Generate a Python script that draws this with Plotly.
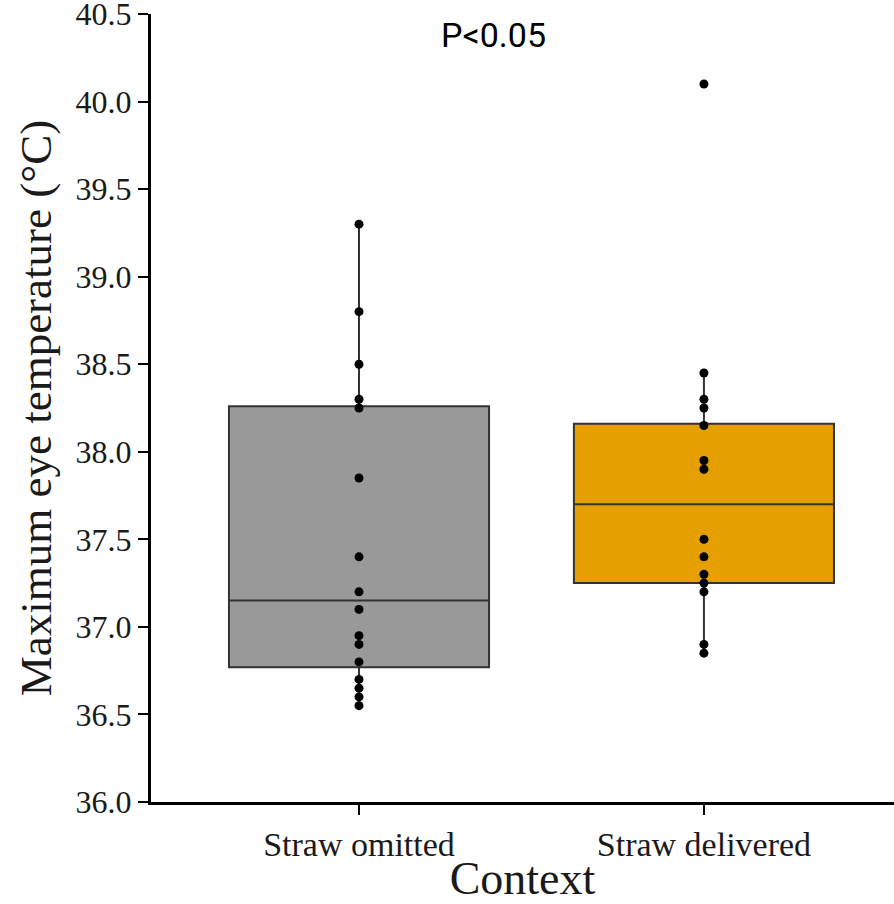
import plotly.graph_objects as go

# ---- data ----
categories = ["Straw omitted", "Straw delivered"]
omitted_values = [39.3, 38.8, 38.5, 38.3, 38.25, 37.85, 37.4, 37.2, 37.1,
                  36.95, 36.9, 36.8, 36.7, 36.65, 36.6, 36.55]
delivered_values = [40.1, 38.45, 38.3, 38.25, 38.15, 37.95, 37.9, 37.5, 37.4,
                    37.3, 37.25, 37.2, 36.9, 36.85]
box_q1 = [36.77, 37.25]
box_median = [37.15, 37.70]
box_q3 = [38.26, 38.16]
box_lower = [36.55, 36.85]
box_upper = [39.30, 38.45]
box_colors = ["#999999", "#E69F00"]
y_ticks = [36.0, 36.5, 37.0, 37.5, 38.0, 38.5, 39.0, 39.5, 40.0, 40.5]
annotation_text = "P<0.05"

fig = go.Figure()
for i, cat in enumerate(categories):
    fig.add_trace(go.Box(
        x=[cat], q1=[box_q1[i]], median=[box_median[i]], q3=[box_q3[i]],
        lowerfence=[box_lower[i]], upperfence=[box_upper[i]],
        fillcolor=box_colors[i], line=dict(color="#333333", width=2),
        whiskerwidth=0, width=0.754, boxpoints=False, showlegend=False,
        hoverinfo="skip"))

series = [omitted_values, delivered_values]
for i, cat in enumerate(categories):
    fig.add_trace(go.Scatter(
        x=[cat] * len(series[i]), y=series[i], mode="markers",
        marker=dict(color="black", size=9), showlegend=False))

serif = "Liberation Serif, Times New Roman, serif"
fig.update_layout(
    width=894, height=904,
    margin=dict(l=151, r=0, t=14, b=102),
    paper_bgcolor="white", plot_bgcolor="white",
    font=dict(family=serif, color="#1a1a1a"),
    xaxis=dict(
        type="category", categoryorder="array", categoryarray=categories,
        range=[-0.603, 1.551], showline=True, linecolor="black", linewidth=3,
        ticks="outside", ticklen=10, tickwidth=2, tickcolor="black",
        showgrid=False, zeroline=False, automargin=False,
        tickfont=dict(family=serif, size=34, color="#1a1a1a"),
        title=dict(text="Context", font=dict(family=serif, size=46, color="#1a1a1a"),
                   standoff=2)),
    yaxis=dict(
        range=[36.0, 40.5], tickvals=y_ticks, tickformat=".1f",
        showline=True, linecolor="black", linewidth=3,
        ticks="outside", ticklen=10, tickwidth=2, tickcolor="black",
        ticklabeloverflow="allow",
        showgrid=False, zeroline=False, automargin=False,
        tickfont=dict(family=serif, size=32, color="#1a1a1a"),
        title=dict(text="Maximum eye temperature (°C)",
                   font=dict(family=serif, size=45, color="#1a1a1a"),
                   standoff=10)),
)
fig.add_annotation(x=0.39, xref="x", y=1.0, yref="paper", yanchor="top", yshift=1,
                   text=annotation_text, showarrow=False,
                   font=dict(family="Roboto, Arial, sans-serif", size=34, color="black"))

fig.write_html("out.html", config={"displayModeBar": False},
               post_script="document.body.style.margin='0';document.body.style.overflow='hidden';")
